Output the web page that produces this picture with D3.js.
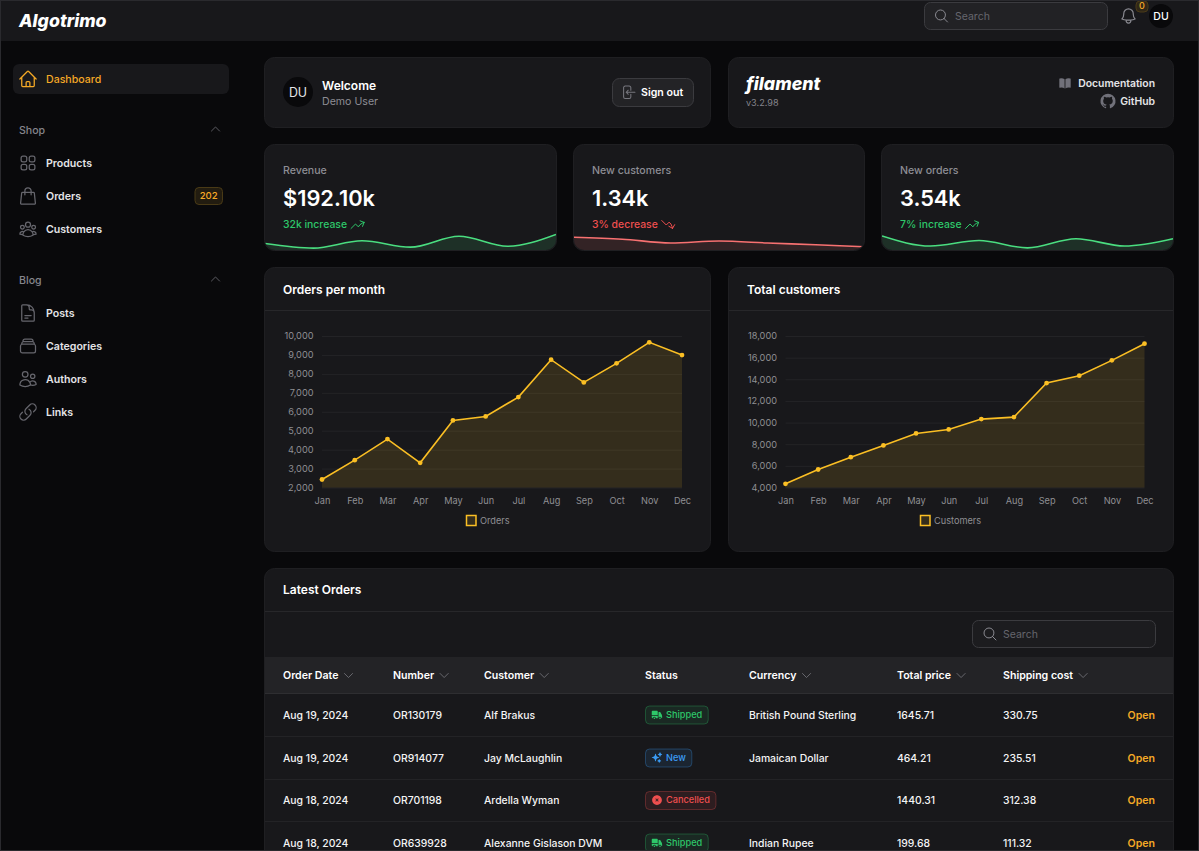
<!DOCTYPE html>
<html>
<head>
<meta charset="utf-8">
<script src="https://cdn.jsdelivr.net/npm/d3@7"></script>
<style>
  html, body { margin: 0; padding: 0; background: #09090b; overflow: hidden; }
  svg { display: block; font-family: Inter, "Noto Sans", sans-serif; }
</style>
</head>
<body>
<div id="page"></div>
<script>
// chart data
var months = ["Jan", "Feb", "Mar", "Apr", "May", "Jun", "Jul", "Aug", "Sep", "Oct", "Nov", "Dec"];
var ordersPerMonth = [2423, 3445, 4555, 3304, 5542, 5753, 6775, 8749, 7551, 8555, 9665, 8995];
var totalCustomers = [4339, 5665, 6806, 7885, 8995, 9365, 10321, 10506, 13652, 14330, 15748, 17290];
var ordersTicks = [2000, 3000, 4000, 5000, 6000, 7000, 8000, 9000, 10000];
var customersTicks = [4000, 6000, 8000, 10000, 12000, 14000, 16000, 18000];
var revenueSpark = [7, 2, 10, 3, 15, 4, 17];
var customersSpark = [17, 16, 14, 15, 14, 13, 12];
var ordersSpark = [15, 4, 10, 2, 12, 4, 12];

// table data
var tableHeads = ["Order Date", "Number", "Customer", "Status", "Currency", "Total price", "Shipping cost"];
var orderDates = ["Aug 19, 2024", "Aug 19, 2024", "Aug 18, 2024", "Aug 18, 2024"];
var orderNumbers = ["OR130179", "OR914077", "OR701198", "OR639928"];
var orderCustomers = ["Alf Brakus", "Jay McLaughlin", "Ardella Wyman", "Alexanne Gislason DVM"];
var orderStatus = ["Shipped", "New", "Cancelled", "Shipped"];
var orderCurrency = ["British Pound Sterling", "Jamaican Dollar", "", "Indian Rupee"];
var orderTotals = ["1645.71", "464.21", "1440.31", "199.68"];
var orderShipping = ["330.75", "235.51", "312.38", "111.32"];

var icons = {
  home: "m2.25 12 8.954-8.955c.44-.439 1.152-.439 1.591 0L21.75 12M4.5 9.75v10.125c0 .621.504 1.125 1.125 1.125H9.75v-4.875c0-.621.504-1.125 1.125-1.125h2.25c.621 0 1.125.504 1.125 1.125V21h4.125c.621 0 1.125-.504 1.125-1.125V9.75M8.25 21h8.25",
  squares: "M3.75 6A2.25 2.25 0 0 1 6 3.75h2.25A2.25 2.25 0 0 1 10.5 6v2.25a2.25 2.25 0 0 1-2.25 2.25H6a2.25 2.25 0 0 1-2.25-2.25V6ZM3.75 15.75A2.25 2.25 0 0 1 6 13.5h2.25a2.25 2.25 0 0 1 2.25 2.25V18a2.25 2.25 0 0 1-2.25 2.25H6A2.25 2.25 0 0 1 3.75 18v-2.25ZM13.5 6a2.25 2.25 0 0 1 2.25-2.25H18A2.25 2.25 0 0 1 20.25 6v2.25A2.25 2.25 0 0 1 18 10.5h-2.25a2.25 2.25 0 0 1-2.25-2.25V6ZM13.5 15.75a2.25 2.25 0 0 1 2.25-2.25H18a2.25 2.25 0 0 1 2.25 2.25V18A2.25 2.25 0 0 1 18 20.25h-2.25A2.25 2.25 0 0 1 13.5 18v-2.25Z",
  bag: "M15.75 10.5V6a3.75 3.75 0 1 0-7.5 0v4.5m11.356-1.993 1.263 12c.07.665-.45 1.243-1.119 1.243H4.25a1.125 1.125 0 0 1-1.12-1.243l1.264-12A1.125 1.125 0 0 1 5.513 7.5h12.974c.576 0 1.059.435 1.119 1.007Z",
  group: "M18 18.72a9.094 9.094 0 0 0 3.741-.479 3 3 0 0 0-4.682-2.72m.94 3.198.001.031c0 .225-.012.447-.037.666A11.944 11.944 0 0 1 12 21c-2.17 0-4.207-.576-5.963-1.584A6.062 6.062 0 0 1 6 18.719m12 0a5.971 5.971 0 0 0-.941-3.197m0 0A5.995 5.995 0 0 0 12 12.75a5.995 5.995 0 0 0-5.058 2.772m0 0a3 3 0 0 0-4.681 2.72 8.986 8.986 0 0 0 3.74.477m.94-3.197a5.971 5.971 0 0 0-.94 3.197M15 6.75a3 3 0 1 1-6 0 3 3 0 0 1 6 0Zm6 3a2.25 2.25 0 1 1-4.5 0 2.25 2.25 0 0 1 4.5 0Zm-13.5 0a2.25 2.25 0 1 1-4.5 0 2.25 2.25 0 0 1 4.5 0Z",
  doc: "M19.5 14.25v-2.625a3.375 3.375 0 0 0-3.375-3.375h-1.5A1.125 1.125 0 0 1 13.5 7.125v-1.5a3.375 3.375 0 0 0-3.375-3.375H8.25m0 12.75h7.5m-7.5 3H12M10.5 2.25H5.625c-.621 0-1.125.504-1.125 1.125v17.25c0 .621.504 1.125 1.125 1.125h12.75c.621 0 1.125-.504 1.125-1.125V11.25a9 9 0 0 0-9-9Z",
  stack: "M6 6.878V6a2.25 2.25 0 0 1 2.25-2.25h7.5A2.25 2.25 0 0 1 18 6v.878m-12 0c.235-.083.487-.128.75-.128h10.5c.263 0 .515.045.75.128m-12 0A2.25 2.25 0 0 0 4.5 9v.878m13.5-3A2.25 2.25 0 0 1 19.5 9v.878m0 0a2.246 2.246 0 0 0-.75-.128H5.25c-.263 0-.515.045-.75.128m15 0A2.25 2.25 0 0 1 21 12v6a2.25 2.25 0 0 1-2.25 2.25H5.25A2.25 2.25 0 0 1 3 18v-6c0-.98.626-1.813 1.5-2.122",
  users: "M15 19.128a9.38 9.38 0 0 0 2.625.372 9.337 9.337 0 0 0 4.121-.952 4.125 4.125 0 0 0-7.533-2.493M15 19.128v-.003c0-1.113-.285-2.16-.786-3.07M15 19.128v.106A12.318 12.318 0 0 1 8.624 21c-2.331 0-4.512-.645-6.374-1.766l-.001-.109a6.375 6.375 0 0 1 11.964-3.07M12 6.375a3.375 3.375 0 1 1-6.75 0 3.375 3.375 0 0 1 6.75 0Zm8.25 2.25a2.625 2.625 0 1 1-5.25 0 2.625 2.625 0 0 1 5.25 0Z",
  link: "M13.19 8.688a4.5 4.5 0 0 1 1.242 7.244l-4.5 4.5a4.5 4.5 0 0 1-6.364-6.364l1.757-1.757m13.35-.622 1.757-1.757a4.5 4.5 0 0 0-6.364-6.364l-4.5 4.5a4.5 4.5 0 0 0 1.242 7.244",
  up: "m4.5 15.75 7.5-7.5 7.5 7.5",
  down: "m19.5 8.25-7.5 7.5-7.5-7.5",
  search: "m21 21-5.197-5.197m0 0A7.5 7.5 0 1 0 5.196 5.196a7.5 7.5 0 0 0 10.607 10.607Z",
  bell: "M14.857 17.082a23.848 23.848 0 0 0 5.454-1.31A8.967 8.967 0 0 1 18 9.75V9A6 6 0 0 0 6 9v.75a8.967 8.967 0 0 1-2.312 6.022c1.733.64 3.56 1.085 5.455 1.31m5.714 0a24.255 24.255 0 0 1-5.714 0m5.714 0a3 3 0 1 1-5.714 0",
  trendUp: "M2.25 18 9 11.25l4.306 4.306a11.95 11.95 0 0 1 5.814-5.518l2.74-1.22m0 0-5.94-2.281m5.94 2.28-2.28 5.941",
  trendDown: "M2.25 6 9 12.75l4.286-4.286a11.948 11.948 0 0 1 4.306 6.43l.776 2.898m0 0 3.182-5.511m-3.182 5.51-5.511-3.181",
  signout: "M15.75 9V5.25A2.25 2.25 0 0 0 13.5 3h-6a2.25 2.25 0 0 0-2.25 2.25v13.5A2.25 2.25 0 0 0 7.5 21h6a2.25 2.25 0 0 0 2.25-2.25V15M12 9l-3 3m0 0 3 3m-3-3h12.75"
};
var solid = {
  book: "M11.25 4.533A9.707 9.707 0 0 0 6 3a9.735 9.735 0 0 0-3.25.555.75.75 0 0 0-.5.707v14.25a.75.75 0 0 0 1 .707A8.237 8.237 0 0 1 6 18.75c1.995 0 3.823.707 5.25 1.886V4.533ZM12.75 20.636A8.214 8.214 0 0 1 18 18.75c.966 0 1.89.166 2.75.47a.75.75 0 0 0 1-.708V4.262a.75.75 0 0 0-.5-.707A9.735 9.735 0 0 0 18 3a9.707 9.707 0 0 0-5.25 1.533v16.103Z",
  github: "M12 .3a12 12 0 0 0-3.8 23.4c.6.1.8-.3.8-.6v-2c-3.3.7-4-1.6-4-1.6-.6-1.4-1.4-1.8-1.4-1.8-1-.7.1-.7.1-.7 1.2.1 1.8 1.2 1.8 1.2 1 1.8 2.8 1.3 3.5 1 .1-.8.4-1.3.8-1.6-2.7-.3-5.5-1.3-5.5-6 0-1.2.5-2.3 1.3-3.1-.2-.4-.6-1.6 0-3.2 0 0 1-.3 3.4 1.2a11.5 11.5 0 0 1 6 0c2.3-1.5 3.3-1.2 3.3-1.2.6 1.6.2 2.8 0 3.2.9.8 1.3 1.9 1.3 3.2 0 4.6-2.8 5.6-5.5 5.9.5.4.9 1 .9 2.2v3.3c0 .3.1.7.8.6A12 12 0 0 0 12 .3Z",
  truck: "M3.375 4.5C2.339 4.5 1.5 5.34 1.5 6.375V13.5h12V6.375c0-1.036-.84-1.875-1.875-1.875h-8.25ZM13.5 15h-12v2.625c0 1.035.84 1.875 1.875 1.875h.375a3 3 0 1 1 6 0h3a.75.75 0 0 0 .75-.75V15ZM8.25 19.5a1.5 1.5 0 1 0-3 0 1.5 1.5 0 0 0 3 0ZM15.75 6.75a.75.75 0 0 0-.75.75v11.25c0 .087.015.17.042.248a3 3 0 0 1 5.958.464c.853-.175 1.522-.935 1.464-1.883a18.659 18.659 0 0 0-3.732-10.104 1.837 1.837 0 0 0-1.47-.725H15.75ZM19.5 19.5a1.5 1.5 0 1 0-3 0 1.5 1.5 0 0 0 3 0Z",
  sparkles: "M9 4.5a.75.75 0 0 1 .721.544l.813 2.846a3.75 3.75 0 0 0 2.576 2.576l2.846.813a.75.75 0 0 1 0 1.442l-2.846.813a3.75 3.75 0 0 0-2.576 2.576l-.813 2.846a.75.75 0 0 1-1.442 0l-.813-2.846a3.75 3.75 0 0 0-2.576-2.576l-2.846-.813a.75.75 0 0 1 0-1.442l2.846-.813A3.75 3.75 0 0 0 7.466 7.89l.813-2.846A.75.75 0 0 1 9 4.5ZM18 1.5a.75.75 0 0 1 .728.568l.258 1.036c.236.94.97 1.674 1.91 1.91l1.036.258a.75.75 0 0 1 0 1.456l-1.036.258c-.94.236-1.674.97-1.91 1.91l-.258 1.036a.75.75 0 0 1-1.456 0l-.258-1.036a2.625 2.625 0 0 0-1.91-1.91l-1.036-.258a.75.75 0 0 1 0-1.456l1.036-.258a2.625 2.625 0 0 0 1.91-1.91l.258-1.036A.75.75 0 0 1 18 1.5ZM16.5 15a.75.75 0 0 1 .712.513l.394 1.183c.15.447.5.799.948.948l1.183.395a.75.75 0 0 1 0 1.422l-1.183.395c-.447.15-.799.5-.948.948l-.395 1.183a.75.75 0 0 1-1.422 0l-.395-1.183a1.5 1.5 0 0 0-.948-.948l-1.183-.395a.75.75 0 0 1 0-1.422l1.183-.395c.447-.15.799-.5.948-.948l.395-1.183A.75.75 0 0 1 16.5 15Z",
  xcircle: "M12 2.25c-5.385 0-9.75 4.365-9.75 9.75s4.365 9.75 9.75 9.75 9.75-4.365 9.75-9.75S17.385 2.25 12 2.25Zm-1.72 6.97a.75.75 0 1 0-1.06 1.06L10.94 12l-1.72 1.72a.75.75 0 1 0 1.06 1.06L12 13.06l1.72 1.72a.75.75 0 1 0 1.06-1.06L13.06 12l1.72-1.72a.75.75 0 1 0-1.06-1.06L12 10.94l-1.72-1.72Z"
};

var amber = "#fbbf24", amberText = "#f5a926", green = "#4ade80", red = "#f87171";
var greenText = "#2ec76a", redText = "#ef4f4f", blueText = "#3b9cf5";
var panel = "#18181b";

var svg = d3.select("#page").append("svg").attr("width", 1199).attr("height", 851);

function txt(g, x, y, s, size, weight, fill, anchor, style) {
  return g.append("text").attr("x", x).attr("y", y).attr("dy", "0.35em")
    .attr("font-size", size).attr("font-weight", weight).attr("fill", fill)
    .attr("text-anchor", anchor || "start").attr("font-style", style || "normal").text(s);
}

// outline icon on a 24 box, size in px
function icon(g, d, x, y, size, color, sw) {
  g.append("path").attr("d", d).attr("transform", "translate(" + x + "," + y + ") scale(" + size / 24 + ")")
    .attr("fill", "none").attr("stroke", color).attr("stroke-width", sw || 1.5)
    .attr("stroke-linecap", "round").attr("stroke-linejoin", "round");
}

function solidIcon(g, d, x, y, size, color) {
  g.append("path").attr("d", d).attr("transform", "translate(" + x + "," + y + ") scale(" + size / 24 + ")")
    .attr("fill", color).attr("fill-rule", "evenodd");
}

function card(x, y, w, h) {
  return svg.append("rect").attr("x", x + 0.5).attr("y", y + 0.5).attr("width", w - 1).attr("height", h - 1)
    .attr("rx", 10).attr("fill", panel).attr("stroke", "#1f1f22");
}

// page frame + topbar
svg.append("rect").attr("width", 1199).attr("height", 851).attr("fill", "#09090b");
svg.append("rect").attr("width", 1199).attr("height", 41).attr("fill", panel);
txt(svg, 19, 21, "Algotrimo", 17.7, 800, "#fff", "start", "italic");
svg.append("rect").attr("x", 924.5).attr("y", 2.5).attr("width", 183).attr("height", 27).attr("rx", 6)
  .attr("fill", "#222225").attr("stroke", "#3b3b3f");
icon(svg, icons.search, 933.5, 8, 16, "#8a8a91");
txt(svg, 955, 16.5, "Search", 10.5, 400, "#66666d");
icon(svg, icons.bell, 1119, 6.5, 19, "#8a8a91");
svg.append("rect").attr("x", 1136).attr("y", 1).attr("width", 12).attr("height", 11).attr("rx", 4)
  .attr("fill", "#2f2718").attr("stroke", "#4a3a18");
txt(svg, 1142, 6, "0", 9, 500, amberText, "middle");
svg.append("circle").attr("cx", 1161).attr("cy", 16).attr("r", 12).attr("fill", "#09090b");
txt(svg, 1161, 16, "DU", 10.5, 500, "#fff", "middle");

// sidebar
svg.append("rect").attr("x", 13).attr("y", 64).attr("width", 216).attr("height", 30).attr("rx", 6).attr("fill", "#18181b");
icon(svg, icons.home, 18, 69, 20, amberText);
txt(svg, 46, 79, "Dashboard", 10.6, 500, amberText);

var navGroups = ["Shop", "Blog"];
var navShop = ["Products", "Orders", "Customers"];
var navShopIcons = ["squares", "bag", "group"];
var navBlog = ["Posts", "Categories", "Authors", "Links"];
var navBlogIcons = ["doc", "stack", "users", "link"];
txt(svg, 19, 130, navGroups[0], 10.6, 500, "#85858c");
icon(svg, icons.up, 209, 122.5, 13, "#6e6e75");
navShop.forEach(function (n, i) {
  var y = 163 + i * 33;
  icon(svg, icons[navShopIcons[i]], 18, y - 10, 20, "#66666d");
  txt(svg, 46, y, n, 10.6, 600, "#e4e4e7");
});
svg.append("rect").attr("x", 195).attr("y", 187.5).attr("width", 27.5).attr("height", 17).attr("rx", 4)
  .attr("fill", "#221c10").attr("stroke", "#493a16");
txt(svg, 208.7, 196, "202", 9.6, 500, amberText, "middle");
txt(svg, 19, 280, navGroups[1], 10.6, 500, "#85858c");
icon(svg, icons.up, 209, 272.5, 13, "#6e6e75");
navBlog.forEach(function (n, i) {
  var y = 313 + i * 33;
  icon(svg, icons[navBlogIcons[i]], 18, y - 10, 20, "#66666d");
  txt(svg, 46, y, n, 10.6, 600, "#e4e4e7");
});

// welcome card
card(264, 57, 447, 71);
svg.append("circle").attr("cx", 298).attr("cy", 92).attr("r", 15).attr("fill", "#09090b");
txt(svg, 298, 92.5, "DU", 12.4, 400, "#e4e4e7", "middle");
txt(svg, 322, 86, "Welcome", 12, 600, "#fff");
txt(svg, 322, 101, "Demo User", 10.6, 400, "#8d8d94");
svg.append("rect").attr("x", 612.5).attr("y", 78.5).attr("width", 81).attr("height", 28).attr("rx", 7)
  .attr("fill", "#232326").attr("stroke", "#3b3b3f");
icon(svg, icons.signout, 620, 84, 16.5, "#77777e");
txt(svg, 641, 92.5, "Sign out", 10.6, 600, "#fff");

// filament card
card(728, 57, 446, 71);
txt(svg, 746, 84, "filament", 17.8, 800, "#fff", "start", "italic");
txt(svg, 746, 102.5, "v3.2.98", 9.1, 400, "#85858c");
solidIcon(svg, solid.book, 1058, 76.5, 14, "#71717a");
txt(svg, 1155, 83.5, "Documentation", 10.4, 600, "#e4e4e7", "end");
solidIcon(svg, solid.github, 1100.5, 93.5, 15, "#71717a");
txt(svg, 1155, 101.5, "GitHub", 10.4, 600, "#e4e4e7", "end");

// stat cards with sparklines
function statCard(x, w, title, value, note, up, data, dom, rng, id) {
  card(x, 144, w, 107);
  txt(svg, x + 19, 170.5, title, 10.6, 500, "#8d8d94");
  txt(svg, x + 19, 198, value, 21.8, 600, "#fff");
  var col = up ? green : red;
  var noteCol = up ? greenText : redText;
  var n = txt(svg, x + 19, 224.5, note, 10.4, 500, noteCol);
  var nw = n.node().getComputedTextLength();
  icon(svg, up ? icons.trendUp : icons.trendDown, x + 19 + nw + 2.5, 216.5, 16, noteCol);

  svg.append("clipPath").attr("id", id).append("rect")
    .attr("x", x + 1).attr("y", 144).attr("width", w - 2).attr("height", 106).attr("rx", 10);
  var sx = d3.scalePoint().domain(d3.range(data.length)).range([x + 1, x + w - 1]);
  var sy = d3.scaleLinear().domain(dom).range(rng);
  var a = d3.area().x(function (d, i) { return sx(i); }).y0(251).y1(function (d) { return sy(d); }).curve(d3.curveMonotoneX);
  var l = d3.line().x(function (d, i) { return sx(i); }).y(function (d) { return sy(d); }).curve(d3.curveMonotoneX);
  var g = svg.append("g").attr("clip-path", "url(#" + id + ")");
  g.append("path").datum(data).attr("d", a).attr("fill", col).attr("fill-opacity", 0.12);
  g.append("path").datum(data).attr("d", l).attr("fill", "none").attr("stroke", col).attr("stroke-width", 1.6);
}
statCard(264, 293, "Revenue", "$192.10k", "32k increase", true, revenueSpark, [0, 17], [249.9, 234.4], "sp1");
statCard(573, 292, "New customers", "1.34k", "3% decrease", false, customersSpark, [12, 17], [246.7, 237.3], "sp2");
statCard(881, 293, "New orders", "3.54k", "7% increase", true, ordersSpark, [0, 15], [249.7, 236], "sp3");

// line charts
function lineChart(x, w, title, label, values, ticks, xRange, legendX) {
  card(x, 267, w, 285);
  txt(svg, x + 19, 290, title, 12, 600, "#fff");
  svg.append("line").attr("x1", x + 1).attr("x2", x + w - 1).attr("y1", 310.5).attr("y2", 310.5).attr("stroke", "#27272a");

  var sx = d3.scalePoint().domain(months).range(xRange);
  var sy = d3.scaleLinear().domain(d3.extent(ticks)).range([487.5, 336]);

  var gy = svg.append("g").attr("transform", "translate(" + xRange[0] + ",0)")
    .call(d3.axisLeft(sy).tickValues(ticks).tickSize(-(xRange[1] - xRange[0])).tickPadding(8.5).tickFormat(d3.format(",")));
  gy.select(".domain").remove();
  gy.selectAll("line").attr("stroke", "#ffffff").attr("stroke-opacity", 0.05);
  gy.selectAll("text").attr("fill", "#8f8f93").attr("font-size", 9.2).attr("font-family", "Inter");

  var gx = svg.append("g").attr("transform", "translate(0,487.5)")
    .call(d3.axisBottom(sx).tickSize(0).tickPadding(10));
  gx.select(".domain").remove();
  gx.selectAll("text").attr("fill", "#8f8f93").attr("font-size", 9.2).attr("font-family", "Inter");

  var area = d3.area().x(function (d, i) { return sx(months[i]); }).y0(sy.range()[0]).y1(function (d) { return sy(d); });
  var ln = d3.line().x(function (d, i) { return sx(months[i]); }).y(function (d) { return sy(d); });
  svg.append("path").datum(values).attr("d", area).attr("fill", amber).attr("fill-opacity", 0.13);
  svg.append("path").datum(values).attr("d", ln).attr("fill", "none").attr("stroke", amber).attr("stroke-width", 1.6);
  svg.append("g").selectAll("circle").data(values).join("circle")
    .attr("cx", function (d, i) { return sx(months[i]); }).attr("cy", function (d) { return sy(d); })
    .attr("r", 2.4).attr("fill", amber);

  svg.append("rect").attr("x", legendX + 0.5).attr("y", 515.5).attr("width", 9.5).attr("height", 10)
    .attr("fill", amber).attr("fill-opacity", 0.13).attr("stroke", amber).attr("stroke-width", 1.5);
  txt(svg, legendX + 14, 520.5, label, 9.2, 400, "#8f8f93");
}
lineChart(264, 447, "Orders per month", "Orders", ordersPerMonth, ordersTicks, [322, 682], 466);
lineChart(728, 446, "Total customers", "Customers", totalCustomers, customersTicks, [785.5, 1144.5], 920);

// table
svg.append("rect").attr("x", 264.5).attr("y", 568.5).attr("width", 909).attr("height", 300).attr("rx", 10)
  .attr("fill", panel).attr("stroke", "#1f1f22");
txt(svg, 283, 590, "Latest Orders", 12, 600, "#fff");
svg.append("line").attr("x1", 265).attr("x2", 1173).attr("y1", 611.5).attr("y2", 611.5).attr("stroke", "#27272a");
svg.append("rect").attr("x", 972.5).attr("y", 620.5).attr("width", 183).attr("height", 27).attr("rx", 6)
  .attr("fill", "#1c1c1f").attr("stroke", "#3b3b3f");
icon(svg, icons.search, 982, 626, 16, "#8a8a91");
txt(svg, 1003, 634, "Search", 10.5, 400, "#66666d");

svg.append("rect").attr("x", 265).attr("y", 657).attr("width", 908).attr("height", 36.5).attr("fill", "#232326");
svg.append("line").attr("x1", 265).attr("x2", 1173).attr("y1", 693.5).attr("y2", 693.5).attr("stroke", "#2e2e31");

var colX = [283, 393, 484, 645, 749, 897, 1003];
tableHeads.forEach(function (h, i) {
  var t = txt(svg, colX[i], 675, h, 10.6, 600, "#fff");
  if (h !== "Status") {
    var tw = t.node().getComputedTextLength();
    icon(svg, icons.down, colX[i] + tw + 3.5, 669, 13, "#77777e");
  }
});

var rowY = [715, 758, 800.5, 843];
var statusColor = { Shipped: greenText, New: blueText, Cancelled: redText };
var statusIcon = { Shipped: solid.truck, New: solid.sparkles, Cancelled: solid.xcircle };

rowY.forEach(function (y, i) {
  if (i > 0) svg.append("line").attr("x1", 265).attr("x2", 1173).attr("y1", Math.floor(y - 21.5) + 0.5).attr("y2", Math.floor(y - 21.5) + 0.5).attr("stroke", "#232326");
  var cells = [orderDates[i], orderNumbers[i], orderCustomers[i], null, orderCurrency[i], orderTotals[i], orderShipping[i]];
  cells.forEach(function (s, j) {
    if (s) txt(svg, colX[j], y, s, 10.4, 500, "#f4f4f5");
  });
  txt(svg, 1155, y, "Open", 10.6, 600, amberText, "end");

  var st = orderStatus[i], c = statusColor[st];
  var b = svg.append("rect").attr("x", 645.5).attr("y", y - 9).attr("height", 18).attr("rx", 4)
    .attr("fill", c).attr("fill-opacity", 0.1).attr("stroke", c).attr("stroke-opacity", 0.3);
  solidIcon(svg, statusIcon[st], 651, y - 6.5, 12, c);
  var t = txt(svg, 666, y - 0.5, st, 9.2, 500, c);
  b.attr("width", t.node().getComputedTextLength() + 26.5);
});

// thin frame from the screenshot
svg.append("rect").attr("x", 0.5).attr("y", 0.5).attr("width", 1198).attr("height", 850)
  .attr("fill", "none").attr("stroke", "#2a2a2e");
</script>
</body>
</html>
